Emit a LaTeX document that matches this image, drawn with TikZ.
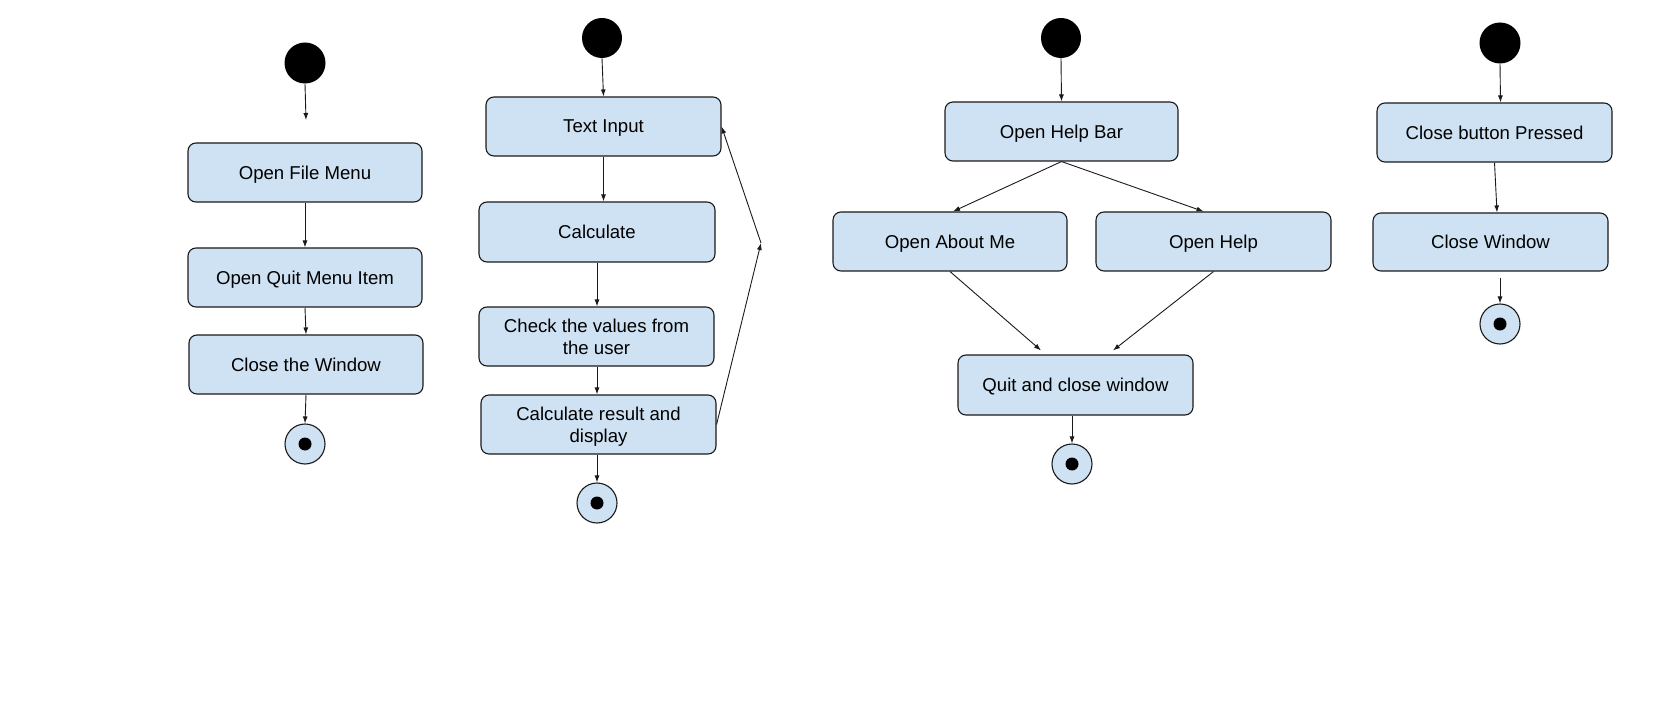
\documentclass[tikz,border=0pt]{standalone}
\usepackage{xcolor}
\usepackage{fontspec}
\setmainfont{Liberation Sans}
\usepackage{tikz}
\usetikzlibrary{arrows.meta,positioning,calc}
\definecolor{boxblue}{HTML}{CFE2F3}
\definecolor{ink}{HTML}{1A1A1A}
\begin{document}
\begin{tikzpicture}[x=1pt,y=-1pt,
box/.style={draw=ink,line width=1.1pt,rounded corners=8pt,fill=boxblue,inner sep=0pt,align=center,font=\fontsize{18.6}{22}\selectfont,text depth=0pt,minimum width=234pt,minimum height=59pt},
start/.style={circle,fill=black,inner sep=0pt,minimum size=41pt},
stop/.style={circle,draw=ink,line width=1.1pt,fill=boxblue,inner sep=0pt,minimum size=40pt,path picture={\fill[black] (path picture bounding box.center) circle (6.5pt);}},
arr/.style={-{Latex[length=7pt,width=5pt]},line width=0.9pt,draw=ink}
]
\useasboundingbox (0,0) rectangle (1654,703);
\node[start] (start1) at (305,63) {};
\coordinate (gap1) at (306,120);
\node[box] (file) at (305,172.5) {Open File Menu};
\node[box] (quitmenu) at (305,277.5) {Open Quit Menu Item};
\node[box] (closethe) at (306,364.5) {Close the Window};
\node[stop] (end1) at (305,444) {};
\draw[arr] (start1.south) -- (gap1);
\draw[arr] (file.south) -- (quitmenu.north);
\draw[arr] (quitmenu.south) -- (closethe.north);
\draw[arr] (closethe.south) -- (end1.north);

\node[start,minimum size=40pt] (start2) at (602,38) {};
\node[box,minimum width=235pt] (textin) at (603.5,126.5) {Text Input};
\node[box,minimum width=236pt,minimum height=60pt] (calc) at (597,232) {Calculate};
\node[box,minimum width=235pt] (check) at (596.5,336.5) {Check the values from\\the user};
\node[box,minimum width=235pt] (result) at (598.5,424.5) {Calculate result and\\display};
\node[stop] (end2) at (597,503) {};
\coordinate (loop) at (761,243);
\draw[arr] (start2.south) -- (textin.north);
\draw[arr] (textin.south) -- (textin.south |- calc.north);
\draw[arr] (end2.north |- calc.south) -- (end2.north |- check.north);
\draw[arr] (end2.north |- check.south) -- (end2.north |- result.north);
\draw[arr] (end2.north |- result.south) -- (end2.north);
\draw[arr] (result.east) -- (loop);
\draw[arr] (loop) -- (textin.east);

\node[start,minimum size=40pt] (start3) at (1061,38) {};
\node[box,minimum width=233pt] (helpbar) at (1061.5,131.5) {Open Help Bar};
\node[box] (about) at (950,241.5) {Open About Me};
\node[box,minimum width=235pt] (help) at (1213.5,241.5) {Open Help};
\node[box,minimum width=235pt,minimum height=60pt] (quit) at (1075.5,385) {Quit and close window};
\node[stop] (end3) at (1072,464) {};
\draw[arr] (start3.south) -- (helpbar.north);
\draw[arr] (helpbar.south) -- ([xshift=3pt]about.north);
\draw[arr] (helpbar.south) -- ([xshift=-10pt]help.north);
\draw[arr] (about.south) -- ([xshift=-34.5pt,yshift=4pt]quit.north);
\draw[arr] (help.south) -- ([xshift=37.5pt,yshift=4pt]quit.north);
\draw[arr] (end3.north |- quit.south) -- (end3.north);

\node[start] (start4) at (1500,43) {};
\node[box,minimum width=235pt] (closebtn) at (1494.5,132.5) {Close button Pressed};
\node[box,minimum width=235pt,minimum height=58pt] (closewin) at (1490.5,242) {Close Window};
\node[stop] (end4) at (1500,324) {};
\draw[arr] (start4.south) -- ([xshift=6pt]closebtn.north);
\draw[arr] (closebtn.south) -- ([xshift=6.5pt]closewin.north);
\draw[arr,shorten <=6pt] (end4.north |- closewin.south) -- (end4.north);
\end{tikzpicture}
\end{document}
